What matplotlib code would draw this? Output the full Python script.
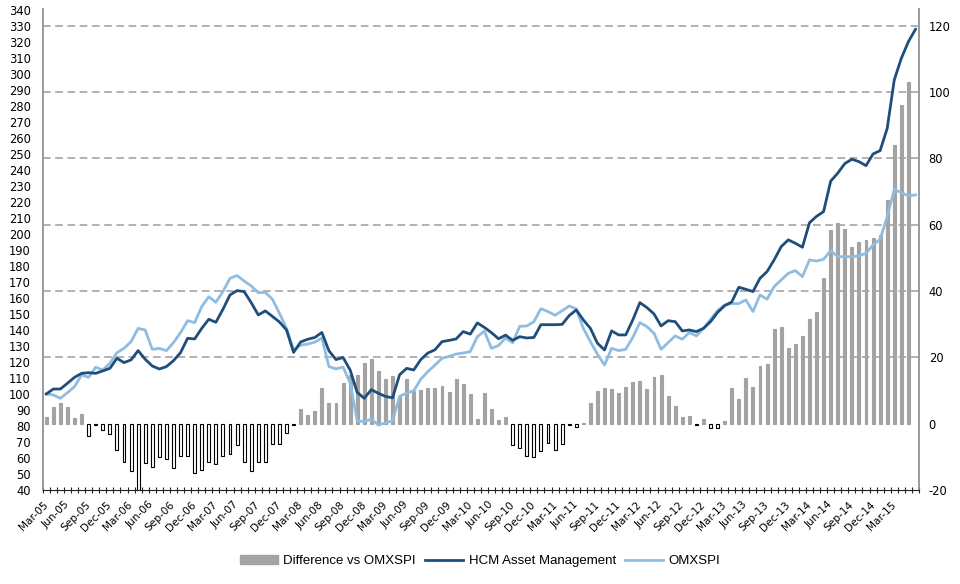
import numpy as np
import pandas as pd
import matplotlib
matplotlib.use("Agg")
import matplotlib.pyplot as plt
from matplotlib.lines import Line2D
from matplotlib.patches import Patch

plt.rcParams["axes.unicode_minus"] = False

# ---------- data (monthly, Mar-05 .. Jun-15) ----------
months = pd.date_range("2005-03-01", periods=124, freq="MS")
month_labels = [d.strftime("%b-%y") for d in months]

hcm = [
    100.0, 103.1, 103.1, 106.7, 110.4, 112.9, 113.3, 112.9, 114.4, 116.0,
    122.3, 119.6, 121.3, 127.1, 121.7, 117.5, 115.6, 117.1, 120.8, 125.8,
    134.8, 134.4, 141.0, 146.7, 144.8, 152.9, 161.9, 164.6, 164.0, 157.1,
    149.4, 151.9, 148.5, 145.0, 140.0, 126.0, 132.5, 134.2, 135.3, 138.4,
    127.0, 121.5, 122.8, 115.0, 101.0, 97.3, 102.7, 100.4, 98.5, 97.6,
    112.0, 116.0, 115.0, 121.5, 125.6, 127.6, 132.7, 133.5, 134.4, 139.0,
    137.4, 144.4, 141.6, 138.3, 134.5, 136.8, 133.5, 135.8, 135.0, 135.3,
    143.3, 143.3, 143.3, 143.5, 149.0, 152.5, 146.3, 141.0, 131.7, 127.5,
    139.4, 136.9, 136.9, 146.3, 157.1, 154.0, 150.0, 142.5, 145.8, 145.2,
    139.4, 140.0, 139.0, 141.0, 145.2, 151.0, 155.2, 157.5, 166.7, 165.4,
    164.0, 172.3, 176.5, 183.8, 192.1, 196.3, 194.2, 191.7, 207.0, 211.0,
    214.0, 233.0, 238.0, 244.0, 246.7, 245.2, 242.7, 250.0, 252.1, 266.0,
    296.3, 309.8, 320.2, 327.9,
]

omx = [
    100.0, 99.4, 97.3, 100.8, 104.6, 111.9, 110.4, 116.7, 115.0, 119.2,
    125.8, 128.5, 132.7, 141.0, 140.0, 127.9, 128.5, 127.1, 132.1, 138.3,
    145.8, 144.6, 154.6, 160.8, 157.3, 164.0, 172.3, 174.0, 170.6, 167.5,
    163.3, 163.5, 159.2, 150.4, 141.0, 127.5, 130.5, 131.2, 132.4, 135.0,
    117.1, 115.7, 116.8, 107.0, 83.2, 82.7, 84.3, 80.6, 81.9, 83.2,
    98.5, 100.6, 102.0, 109.2, 114.0, 118.0, 122.3, 123.5, 125.0, 125.6,
    126.5, 135.8, 139.3, 128.5, 130.3, 135.0, 132.0, 142.3, 142.5, 145.2,
    153.3, 151.5, 149.2, 152.0, 155.0, 153.2, 141.0, 132.7, 124.8, 118.1,
    128.5, 127.1, 127.9, 135.4, 144.6, 142.1, 137.9, 127.9, 132.1, 136.3,
    134.2, 138.4, 136.3, 141.0, 146.7, 152.1, 155.6, 156.5, 156.5, 158.8,
    151.5, 161.9, 159.2, 167.1, 171.3, 175.4, 177.1, 173.3, 183.8, 183.1,
    184.2, 189.6, 185.8, 185.8, 185.8, 186.3, 187.9, 193.1, 196.7, 210.8,
    227.9, 225.8, 223.8, 224.4,
]

diff = [
    2.0, 5.1, 6.3, 5.1, 1.6, 2.8, -3.7, -0.3, -2.0, -3.0,
    -8.0, -11.5, -14.4, -20.0, -11.9, -13.2, -10.2, -10.8, -13.4, -9.8,
    -9.8, -14.8, -13.9, -11.6, -12.3, -9.7, -9.2, -6.5, -11.6, -14.4,
    -11.6, -11.6, -6.0, -6.0, -2.9, -0.4, 4.3, 2.7, 3.9, 10.7,
    6.3, 6.3, 12.3, 14.6, 14.7, 18.2, 19.6, 15.9, 13.4, 14.3,
    8.5, 13.4, 10.0, 10.1, 10.7, 10.8, 11.5, 9.5, 13.5, 12.0,
    9.1, 1.3, 9.2, 4.3, 1.0, 1.9, -6.4, -7.4, -9.7, -10.2,
    -8.1, -5.7, -7.9, -6.1, -0.3, -1.1, 0.3, 6.3, 9.9, 10.7,
    10.4, 9.2, 11.0, 12.7, 13.0, 10.4, 14.2, 14.7, 8.4, 5.4,
    1.9, 2.3, -0.3, 1.5, -1.2, -1.2, 0.8, 10.7, 7.3, 13.8,
    11.1, 17.3, 18.1, 28.6, 29.1, 22.9, 24.1, 26.6, 31.7, 33.7,
    44.0, 58.3, 60.5, 58.8, 53.3, 54.8, 55.3, 56.0, 57.0, 67.5,
    84.2, 96.1, 103.0, np.nan,
]

left_ticks = list(range(40, 341, 10))
right_ticks = list(range(-20, 121, 20))
grid_levels = [20, 40, 60, 80, 100, 120]
label_idx = list(range(0, 121, 3))  # Mar-05 .. Mar-15

DARK = "#1f4e7c"
LIGHT = "#8fbde2"
BAR = "#a3a3a3"
AXIS_GREY = "#9a9a9a"

# ---------- plot ----------
fig = plt.figure(figsize=(9.6, 5.84), dpi=100)
ax = fig.add_axes([0.0445, 0.161, 0.9128, 0.8236])
ax2 = ax.twinx()

x = np.arange(len(month_labels))
d = np.array(diff, dtype=float)

# bars + grid on the right axis (drawn underneath)
for lvl in grid_levels:
    ax2.axhline(lvl, color="#9c9c9c", lw=1.1, ls=(0, (5, 3)), zorder=0)
face = [BAR if v >= 0 else "white" for v in np.nan_to_num(d)]
edge = [BAR if v >= 0 else "black" for v in np.nan_to_num(d)]
ax2.bar(x, d, width=0.42, color=face, edgecolor=edge, linewidth=0.8, zorder=2)
ax2.set_ylim(-20, 125.1)
ax2.set_yticks(right_ticks)

# lines on the left axis (on top)
ax.set_zorder(ax2.get_zorder() + 1)
ax.patch.set_visible(False)
ax.plot(x, omx, color=LIGHT, lw=2.0, solid_joinstyle="round")
ax.plot(x, hcm, color=DARK, lw=2.0, solid_joinstyle="round")
ax.set_ylim(40, 340.6)
ax.set_yticks(left_ticks)
ax.set_xlim(-0.5, len(x) - 0.5)

# x axis: labels every quarter, small ticks between months
ax.set_xticks(label_idx)
ax.set_xticklabels([month_labels[i] for i in label_idx], rotation=45, ha="right",
                   va="center", rotation_mode="anchor", fontsize=7.6)
ax.set_xticks(np.arange(len(x) + 1) - 0.5, minor=True)
ax.tick_params(axis="x", which="major", length=0, pad=9.5)
ax.tick_params(axis="x", which="minor", length=4, width=0.8, direction="inout",
               color="#222222")
ax.tick_params(axis="y", length=0, pad=8.5, labelsize=8.3)
ax2.tick_params(axis="y", length=0, pad=7, labelsize=8.3)

for a in (ax, ax2):
    a.spines["top"].set_visible(False)
    a.spines["left"].set_color(AXIS_GREY)
    a.spines["right"].set_color(AXIS_GREY)
    a.spines["bottom"].set_color("#222222")
    a.spines["left"].set_linewidth(1.2)
    a.spines["right"].set_linewidth(1.2)
ax2.spines["bottom"].set_visible(False)

handles = [
    Patch(facecolor=BAR, edgecolor=BAR),
    Line2D([0], [0], color=DARK, lw=2.0),
    Line2D([0], [0], color=LIGHT, lw=2.0),
]
names = ["Difference vs OMXSPI", "HCM Asset Management", "OMXSPI"]
fig.legend(handles, names, loc="center", bbox_to_anchor=(0.50, 1 - 561 / 584),
           ncol=3, frameon=False, prop={"family": "Liberation Sans", "size": 9.5},
           handlelength=2.9, handletextpad=0.4, columnspacing=0.7,
           handleheight=0.6)

fig.savefig("out.png", dpi=100)
